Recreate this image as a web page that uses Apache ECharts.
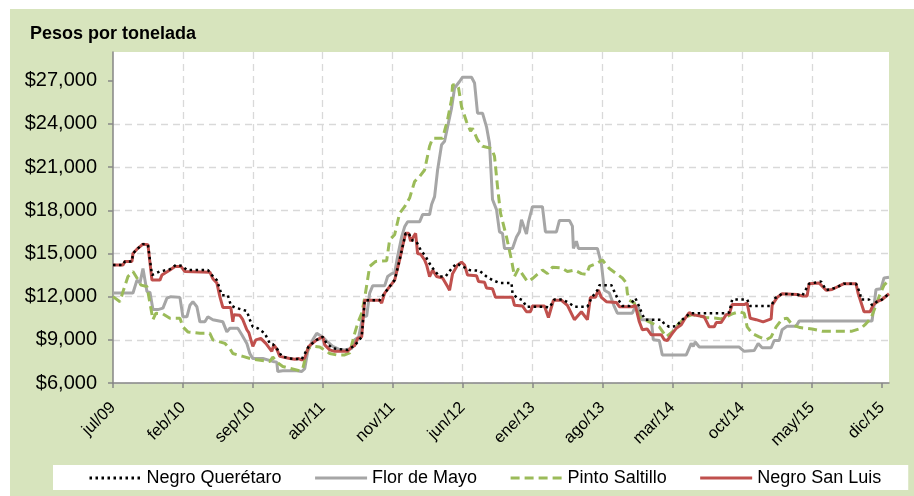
<!DOCTYPE html>
<html>
<head>
<meta charset="utf-8">
<script src="https://cdn.jsdelivr.net/npm/echarts@6/dist/echarts.min.js"></script>
<style>
html, body { margin: 0; padding: 0; background: #fff; }
#panel { position: absolute; left: 10px; top: 9px; width: 904px; height: 487px; background: #d7e4bd; }
#chart { position: absolute; left: 0; top: 0; width: 914px; height: 496px; }
</style>
</head>
<body>
<div id="panel"></div>
<div id="chart"></div>
<script>
// meses desde jul/09 en el eje x
var tickMonths = [0, 7, 14, 21, 28, 35, 42, 49, 56, 63, 70, 77];
var tickLabels = ['jul/09', 'feb/10', 'sep/10', 'abr/11', 'nov/11', 'jun/12', 'ene/13', 'ago/13', 'mar/14', 'oct/14', 'may/15', 'dic/15'];
var yTicks = [6000, 9000, 12000, 15000, 18000, 21000, 24000, 27000];

var negroQueretaro = [[0,14200],[1.0,14200],[1.2,14450],[1.9,14450],[2.0,15000],[2.4,15300],[3.0,15650],[3.5,15600],[3.9,13500],[4.7,13750],[5.7,13900],[6.3,14200],[6.9,14150],[7.4,13850],[9.5,13850],[9.9,13500],[10.4,13150],[10.9,12100],[11.5,12100],[11.8,11400],[12.2,11250],[13.4,11000],[13.7,10400],[14.0,9900],[14.5,9800],[15.2,9450],[15.7,8750],[16.0,8700],[16.5,8300],[16.9,7850],[17.7,7700],[18.9,7650],[19.6,8550],[20.4,9000],[21.0,9200],[21.4,8750],[22.0,8400],[23.5,8300],[24.2,8600],[24.9,9200],[25.2,11750],[26.7,11750],[27.2,12250],[27.7,12700],[28.2,13150],[28.7,14550],[29.0,15500],[29.3,16400],[29.6,16400],[30.0,15900],[30.4,15800],[30.8,15250],[31.3,14800],[31.7,14300],[32.2,13800],[32.7,13400],[33.3,13400],[33.9,13950],[34.4,14300],[35.0,14100],[35.7,13850],[36.7,13800],[37.4,13400],[38.0,13150],[38.7,12950],[39.9,12950],[40.0,12250],[40.4,11950],[41.0,11750],[41.4,11300],[43.2,11300],[43.7,11250],[44.2,11800],[45.0,11800],[45.7,11550],[46.2,11300],[47.5,11300],[47.9,11900],[48.5,12450],[48.7,12800],[49.9,12800],[50.2,12350],[50.5,11900],[51.0,11350],[51.7,11350],[52.3,11900],[52.7,11300],[53.0,10750],[53.3,10400],[54.9,10400],[55.2,10100],[55.7,9900],[56.4,9950],[57.0,10400],[57.8,10850],[61.2,10850],[61.7,10900],[62.0,11800],[63.5,11800],[63.8,11350],[65.9,11350],[66.3,11900],[66.5,11950],[67.0,12200],[68.5,12150],[69.0,12050],[69.7,12900],[70.9,13050],[71.4,12450],[72.3,12600],[73.2,12900],[74.4,12900],[74.8,12250],[74.9,11800],[75.7,11800],[76.0,11400],[76.5,11650],[77.0,11800],[77.7,12200]];

var florDeMayo = [[0,12250],[2.0,12250],[2.4,13150],[2.7,12950],[3.0,13950],[3.2,13900],[3.4,12350],[3.7,12300],[4.0,11100],[4.5,11100],[5.0,11200],[5.4,11900],[5.8,12000],[6.7,11950],[7.0,10600],[7.4,10600],[7.7,11400],[8.0,11650],[8.4,11300],[8.7,10250],[9.2,10250],[9.5,10600],[10.0,10400],[11.0,10250],[11.4,9550],[11.7,9800],[12.5,9800],[12.9,9350],[13.4,8750],[13.7,8050],[14.0,7700],[15.0,7700],[16.0,7500],[16.4,7450],[16.5,6800],[17.0,6850],[18.4,6850],[18.9,6800],[19.2,7000],[19.5,8200],[20.0,9000],[20.4,9450],[21.0,9200],[21.5,8850],[22.0,8550],[22.6,8350],[23.2,8300],[23.9,8400],[24.2,9000],[24.6,9200],[25.0,10600],[25.4,10650],[25.7,12250],[26.0,12750],[27.2,12750],[27.5,13400],[27.9,13600],[28.2,13650],[28.5,14800],[28.9,16150],[29.2,16850],[29.5,17200],[30.7,17200],[31.0,17700],[31.7,17700],[31.9,18400],[32.2,18950],[32.5,20800],[32.9,22550],[33.2,22800],[33.5,23800],[33.9,25100],[34.2,26500],[34.7,26950],[35.0,27250],[35.9,27250],[36.2,26850],[36.4,26800],[36.5,24750],[37.0,24750],[37.4,23800],[37.7,22650],[38.0,18750],[38.4,18050],[38.7,16500],[39.0,16400],[39.2,15350],[40.0,15350],[40.4,16150],[40.7,16500],[40.9,17350],[41.1,17350],[41.4,16350],[41.6,17200],[42.0,18250],[43.0,18250],[43.3,16500],[44.4,16500],[44.7,17300],[45.7,17300],[46.0,16900],[46.1,15350],[46.4,15850],[46.6,15350],[48.5,15350],[48.9,14300],[49.2,12450],[49.7,12250],[50.2,11300],[50.5,10850],[52.0,10850],[52.3,11300],[52.6,11300],[52.9,10400],[53.9,10400],[54.1,9000],[54.7,8950],[55.0,7950],[57.4,7950],[57.9,8750],[58.1,8550],[58.3,8850],[58.7,8500],[62.7,8500],[63.2,8200],[64.2,8250],[64.6,8750],[65.0,8450],[65.9,8450],[66.2,8950],[66.7,8950],[67.0,9700],[67.5,9950],[68.4,9950],[68.7,10300],[76.0,10300],[76.4,12500],[76.9,12550],[77.2,13300],[77.7,13350]];

var pintoSaltillo = [[0,12000],[0.7,11650],[1.0,12350],[1.5,13400],[2.0,13750],[2.4,13300],[2.8,12800],[3.4,12700],[3.7,11550],[4.0,10400],[4.3,10850],[5.0,10800],[5.7,10500],[6.7,10500],[7.0,9900],[7.5,9550],[8.7,9450],[9.7,9450],[10.0,9000],[11.2,8750],[11.7,8400],[12.0,8050],[13.0,7850],[14.0,7650],[15.7,7500],[16.0,7800],[16.5,7400],[17.0,7150],[18.7,6850],[19.0,7000],[19.5,8400],[20.0,8550],[20.7,8500],[21.4,8200],[21.7,8050],[22.4,7950],[23.2,7950],[23.7,8100],[24.2,9450],[24.5,10150],[24.9,10850],[25.2,11900],[25.7,14100],[26.3,14450],[27.4,14500],[27.7,15950],[28.2,16300],[28.7,17800],[29.2,18250],[29.7,18850],[30.2,20000],[30.7,20350],[31.2,20800],[31.7,22450],[32.0,23000],[33.0,23000],[33.2,22900],[33.5,24300],[33.9,25700],[34.0,26700],[34.4,26750],[34.6,26500],[34.9,25200],[35.4,24150],[35.8,23500],[36.0,23700],[36.5,22900],[37.0,22450],[37.9,22300],[38.2,21750],[38.5,19650],[38.8,17800],[39.4,16150],[39.9,14550],[40.2,13400],[40.6,13950],[41.0,13550],[41.5,13050],[42.0,13250],[42.4,13500],[43.0,13850],[43.5,13600],[44.0,14050],[44.9,14000],[45.5,13750],[46.2,13850],[46.9,13600],[47.4,13550],[47.7,14100],[48.4,14300],[49.0,14550],[49.7,13950],[50.4,13600],[51.0,13300],[51.4,12950],[51.5,12250],[51.7,11750],[52.2,11550],[52.7,10600],[53.2,10400],[54.0,10150],[54.7,9900],[55.4,9200],[56.0,9550],[56.7,10150],[57.4,10600],[58.0,10750],[59.4,10550],[60.4,10500],[60.9,10450],[61.4,10600],[62.0,10800],[62.7,10950],[63.2,10850],[63.5,9900],[64.0,9450],[64.7,9200],[65.4,9000],[65.9,9200],[66.4,9900],[67.0,10450],[67.5,10500],[68.0,10050],[68.8,9850],[70.0,9750],[71.0,9600],[74.0,9600],[74.9,9800],[75.3,10050],[75.9,10500],[76.4,11400],[76.7,12000],[77.2,12800],[77.7,13150]];

var negroSanLuis = [[0,14200],[1.0,14200],[1.2,14450],[1.9,14450],[2.0,15000],[2.4,15300],[2.6,15350],[3.0,15650],[3.5,15600],[3.9,13150],[4.7,13150],[4.9,13500],[5.7,13850],[6.2,14100],[6.8,14100],[7.2,13750],[9.7,13700],[10.0,13250],[10.4,12950],[10.7,12000],[11.0,11250],[11.8,11250],[12.0,10250],[12.1,10750],[12.7,10700],[13.0,10400],[13.4,9700],[13.6,9500],[14.0,8550],[14.3,9000],[14.8,9100],[15.3,8750],[15.9,8200],[16.1,8650],[16.4,8350],[16.7,7850],[17.7,7700],[18.2,7650],[18.6,7700],[18.9,7600],[19.2,7750],[19.6,8550],[20.4,9000],[21.0,9200],[21.2,8650],[21.7,8300],[22.2,8200],[23.5,8200],[23.9,8500],[24.2,8600],[24.5,9100],[24.9,9200],[25.2,11750],[26.7,11750],[26.9,11550],[27.2,12250],[27.7,12700],[28.2,13150],[28.7,14550],[29.0,15500],[29.3,16400],[29.6,16400],[29.8,15850],[30.3,16400],[30.5,15000],[30.8,14950],[31.2,14550],[31.4,14200],[31.7,13400],[32.0,13850],[32.4,13400],[33.0,13300],[33.5,12700],[33.7,12450],[34.0,13600],[34.5,14200],[34.9,14400],[35.2,14200],[35.5,13500],[36.4,13450],[36.6,13050],[37.2,13000],[37.4,12600],[38.0,12550],[38.3,11950],[40.0,11950],[40.2,11400],[41.0,11350],[41.4,10950],[41.8,10950],[42.0,11350],[43.2,11350],[43.6,10550],[44.1,11750],[44.9,11750],[45.5,11400],[46.2,10400],[46.9,10950],[47.5,10400],[47.8,11950],[48.3,11950],[48.6,12450],[48.9,11950],[49.4,11650],[50.4,11600],[50.7,11300],[52.0,11300],[52.3,11400],[52.7,10250],[53.0,9700],[53.5,9750],[53.9,9350],[54.9,9350],[55.2,9000],[55.5,8950],[56.0,9450],[56.4,9800],[56.9,10050],[57.2,10400],[57.7,10900],[58.0,10750],[59.2,10600],[59.7,9900],[60.2,9900],[60.4,10200],[60.9,10200],[61.4,10750],[61.7,10800],[62.0,11450],[63.2,11450],[63.5,11550],[63.8,10500],[64.4,10400],[65.1,10250],[65.9,10450],[66.0,11400],[66.5,11950],[67.0,12200],[68.5,12150],[69.0,12050],[69.5,12050],[69.7,12900],[70.7,12950],[70.9,13050],[71.4,12450],[72.0,12500],[72.3,12600],[73.2,12900],[74.4,12900],[74.6,12250],[75.2,10950],[75.8,10950],[76.1,11400],[76.5,11650],[77.0,11800],[77.7,12200]];

var font = 'Liberation Sans, Arial, sans-serif';
var gridLine = { color: '#d9d9d9', width: 1.3, type: [7, 5] };

function serie(name, data, color, width, dash, z) {
    return {
        name: name,
        type: 'line',
        data: data,
        symbol: 'none',
        showSymbol: false,
        z: z,
        itemStyle: { color: color },
        lineStyle: { color: color, width: width, type: dash }
    };
}

var myChart = echarts.init(document.getElementById('chart'));
var option = {
    animation: false,
    textStyle: { fontFamily: font },
    title: {
        text: 'Pesos por tonelada',
        left: 30, top: 25, padding: 0,
        textStyle: { fontSize: 18, fontWeight: 'bold', color: '#000', fontFamily: font }
    },
    legend: {
        data: ['Negro Querétaro', 'Flor de Mayo', 'Pinto Saltillo', 'Negro San Luis'],
        left: 53, top: 465, width: 840,
        padding: [4, 27, 3, 35],
        backgroundColor: '#fff',
        itemWidth: 52, itemHeight: 14, itemGap: 32,
        itemStyle: { opacity: 0 },
        lineStyle: { width: 3 },
        textStyle: { fontSize: 18, color: '#000', fontFamily: font }
    },
    grid: {
        left: 113, top: 52, right: 25, bottom: 113,
        show: true, backgroundColor: '#fff', borderWidth: 0
    },
    xAxis: {
        type: 'value', min: 0, max: 77.7, interval: 7,
        axisLine: { lineStyle: { color: '#868686', width: 1.5 } },
        axisTick: { show: true, length: 5, customValues: tickMonths, lineStyle: { color: '#868686', width: 1.5 } },
        axisLabel: {
            customValues: tickMonths,
            formatter: function (v) { return tickLabels[tickMonths.indexOf(v)]; },
            rotate: 45, fontSize: 16.5, margin: 22, color: '#000', fontFamily: font
        },
        splitLine: { show: true, showMinLine: false, showMaxLine: false, lineStyle: gridLine }
    },
    yAxis: {
        type: 'value', min: 6000, max: 29000, interval: 3000,
        axisLine: { show: true, lineStyle: { color: '#868686', width: 1.5 } },
        axisTick: { show: true, length: 5, customValues: yTicks, lineStyle: { color: '#868686', width: 1.5 } },
        axisLabel: {
            customValues: yTicks,
            formatter: function (v) { return '$' + v.toLocaleString('en-US'); },
            fontSize: 20, margin: 16, color: '#000', fontFamily: font
        },
        splitLine: { show: true, showMaxLine: false, lineStyle: gridLine }
    },
    series: [
        serie('Flor de Mayo', florDeMayo, '#a6a6a6', 3, 'solid', 2),
        serie('Pinto Saltillo', pintoSaltillo, '#9bbb59', 3, [9, 5], 3),
        serie('Negro San Luis', negroSanLuis, '#c0504d', 3, 'solid', 4),
        serie('Negro Querétaro', negroQueretaro, '#000000', 2.5, [2.5, 3.5], 5)
    ]
};
myChart.setOption(option);
</script>
</body>
</html>
